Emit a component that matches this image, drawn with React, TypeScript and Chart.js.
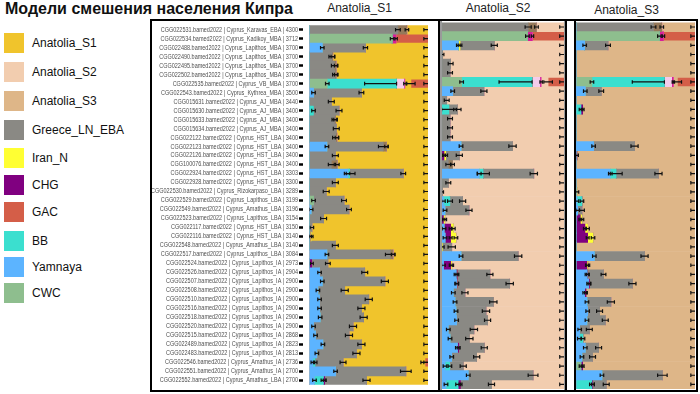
import React, { useEffect, useRef } from 'react';
import { Chart, registerables } from 'chart.js';

Chart.register(...registerables);

// ---------- categories ----------
const sampleIds = [
  'CGG022531', 'CGG022534', 'CGG022488', 'CGG022490', 'CGG022495', 'CGG022502', 'CGG022535', 'CGG022543',
  'CGG015631', 'CGG015630', 'CGG015633', 'CGG015634', 'CGG022122', 'CGG022123', 'CGG022126', 'CGG100076',
  'CGG022924', 'CGG022928', 'CGG022530', 'CGG022529', 'CGG022549', 'CGG022523', 'CGG022117', 'CGG022116',
  'CGG022548', 'CGG022517', 'CGG022524', 'CGG022526', 'CGG022507', 'CGG022508', 'CGG022510', 'CGG022516',
  'CGG022518', 'CGG022520', 'CGG022515', 'CGG022489', 'CGG022483', 'CGG022546', 'CGG022551', 'CGG022552',
];
const sites = [
  'Cyprus_Karavas_EBA', 'Cyprus_Kadikoy_MBA', 'Cyprus_Lapithos_MBA', 'Cyprus_Lapithos_MBA', 'Cyprus_Lapithos_MBA',
  'Cyprus_Lapithos_MBA', 'Cyprus_VB_MBA', 'Cyprus_Kythrea_MBA', 'Cyprus_AJ_MBA', 'Cyprus_AJ_MBA',
  'Cyprus_AJ_MBA', 'Cyprus_AJ_MBA', 'Cyprus_HST_LBA', 'Cyprus_HST_LBA', 'Cyprus_HST_LBA',
  'Cyprus_HST_LBA', 'Cyprus_HST_LBA', 'Cyprus_HST_LBA', 'Cyprus_Rizokarpaso_LBA', 'Cyprus_Lapithos_LBA',
  'Cyprus_Amathus_LBA', 'Cyprus_Lapithos_LBA', 'Cyprus_HST_LBA', 'Cyprus_HST_LBA', 'Cyprus_Amathus_LBA',
  'Cyprus_Lapithos_LBA', 'Cyprus_Lapithos_IA', 'Cyprus_Lapithos_IA', 'Cyprus_Lapithos_IA', 'Cyprus_Lapithos_IA',
  'Cyprus_Lapithos_IA', 'Cyprus_Lapithos_IA', 'Cyprus_Lapithos_IA', 'Cyprus_Lapithos_IA', 'Cyprus_Lapithos_IA',
  'Cyprus_Lapithos_IA', 'Cyprus_Lapithos_IA', 'Cyprus_Amathus_IA', 'Cyprus_Amathus_IA', 'Cyprus_Amathus_LBA',
];
const dates = [
  4300, 3712, 3700, 3700, 3700, 3700, 3700, 3500, 3440, 3400, 3400, 3400, 3400, 3400, 3400, 3400, 3303, 3300, 3289, 3199,
  3196, 3154, 3150, 3140, 3140, 3084, 2973, 2904, 2900, 2900, 2900, 2900, 2900, 2900, 2868, 2823, 2813, 2736, 2700, 2700,
];
const categories = sampleIds.map((id, i) => `${id}.bamed2022 | ${sites[i]} | ${dates[i]}`);

// ---------- panel titles / legend ----------
const panelTitles = ['Anatolia_S1', 'Anatolia_S2', 'Anatolia_S3'];
const legendNames = ['Anatolia_S1', 'Anatolia_S2', 'Anatolia_S3', 'Greece_LN_EBA', 'Iran_N', 'CHG', 'GAC', 'BB', 'Yamnaya', 'CWC'];
const legendColors = ['#F0C42C', '#F2CDAF', '#DEB688', '#8A8984', '#FFFF33', '#800080', '#D45E48', '#3BDFCF', '#5CB4FF', '#8EBE8E'];

// ---------- Panel 1 (Anatolia_S1) ----------
const s1Yamnaya = [0, 0, 10.8, 0, 0, 0, 0, 3.4, 0, 0, 0, 0, 0, 14.7, 0, 0, 32.5, 0, 0, 0, 1.4, 0, 0, 0, 0, 14.7, 0, 8.5, 10.8, 7.1, 8.5, 8.5, 9, 3.4, 5.1, 11.3, 6.2, 2.8, 22, 4.2];
const s1CWC = [0, 69.7, 0, 0, 0, 0, 15, 0, 0, 0, 0, 0, 0, 0, 0, 0, 0, 0, 0, 3.4, 0, 0, 0, 0, 0, 0, 0, 0, 0, 0, 0, 0, 0, 0, 0, 0, 0, 0, 0, 0];
const s1BB = [0, 0, 0, 0, 0, 0, 58.5, 0, 0, 3.4, 0, 0, 0, 0, 0, 0, 1.4, 0, 0, 0, 0, 0, 0, 0, 0, 0, 0, 0, 0, 0, 0, 0, 0, 0, 0, 0, 0, 2, 0, 7.6];
const s1CHG = [0, 0, 0, 0, 0, 0, 0, 0, 0, 0, 0, 0, 0, 0, 0, 0, 0, 0, 0, 0, 0, 0, 0, 0.5, 0, 0, 2, 0, 0, 0, 0, 0, 0, 0, 0, 0, 0, 0, 0, 1];
const s1Iran = [0, 0, 0, 0, 0, 0, 0, 0, 0, 0, 0, 0, 0, 0, 0, 0, 0, 0, 0, 0, 0, 0, 0, 1, 0, 0, 0, 0, 0, 0, 0, 0, 0, 0, 0, 0, 0, 0, 0, 0];
const s1Greece = [74.6, 0, 36.4, 18.9, 21, 21.5, 0, 40.4, 18.4, 21.5, 21, 22.6, 22, 47.5, 21.8, 18.4, 45.2, 21.8, 14.1, 25.7, 31.9, 11.9, 2, 0, 21.8, 53.4, 13.5, 38.1, 52.8, 22.6, 41.5, 35.3, 36.7, 33.3, 28.2, 32.5, 33.4, 23.5, 59.3, 35.3];
const s1Brown = [7.6, 0, 0, 0.8, 1.5, 1.1, 0, 0, 0, 0, 1, 0, 1.2, 2.8, 0, 5.1, 0, 0, 0, 0, 0, 0, 0, 0, 0, 2.5, 0, 0, 0, 0, 0, 0, 0, 0, 0, 0, 0, 0, 0, 0];
const s1Pink = [0, 0, 0, 0, 0, 0, 6.2, 0, 0, 0, 0, 0, 0, 0, 0, 0, 0, 0, 0, 0, 0, 0, 0, 0, 0, 0, 0, 0, 0, 0, 0, 0, 0, 0, 0, 0, 0, 0, 0, 0];
const s1Magenta = [0, 3.4, 0, 0, 0, 0, 0.8, 0, 0, 0, 0, 0, 0, 0, 0, 0, 0, 0, 0, 0, 0, 0, 0, 0, 0, 0, 0, 0, 0, 0, 0, 0, 0, 0, 0, 0, 0, 0, 0, 0];
const s1Anatolia = [17.8, 0, 52.8, 80.3, 77.5, 77.4, 5.1, 56.2, 81.6, 75.1, 78, 77.4, 76.8, 35, 78.2, 76.5, 20.9, 78.2, 85.9, 70.9, 66.7, 88.1, 98, 98.5, 78.2, 29.4, 84.5, 53.4, 36.4, 70.3, 50, 56.2, 54.3, 63.3, 66.7, 56.2, 60.4, 69.2, 18.7, 51.9];
const s1GAC = [0, 26.9, 0, 0, 0, 0, 14.4, 0, 0, 0, 0, 0, 0, 0, 0, 0, 0, 0, 0, 0, 0, 0, 0, 0, 0, 0, 0, 0, 0, 0, 0, 0, 0, 0, 0, 0, 0, 2.5, 0, 0];
const s1ErrGreece = [2, 0, 1.8, 2.5, 2.5, 2, 0, 2, 2.5, 2.5, 2, 2.5, 2.5, 4, 2.5, 2.5, 2, 2.5, 2.5, 2, 2, 2.5, 1.5, 0, 2.5, 4, 2, 2.5, 3, 3, 3, 3, 3, 3, 3, 3, 3, 2.5, 4.5, 3];
const s1ErrBB = [0, 0, 0, 0, 0, 0, [27, 0], 0, 0, 1.5, 0, 0, 0, 0, 0, 0, 4.5, 0, 0, 0, 0, 0, 0, 0, 0, 0, 0, 0, 0, 0, 0, 0, 0, 0, 0, 0, 0, 1.5, 0, 2];

// ---------- Panel 2 (Anatolia_S2) ----------
const s2Yamnaya = [0, 0, 13.6, 0, 0, 0, 0, 9, 0, 0, 0, 0, 0, 15.8, 0, 0, 30.7, 0, 0, 1.4, 2.7, 0, 1.9, 2.7, 0, 15.8, 1.4, 11.7, 12.2, 9.5, 10.9, 11.7, 12.2, 5.4, 6.8, 12.8, 8.2, 2.7, 21.7, 3.5];
const s2CWC = [0, 70.1, 0, 0, 0, 0, 16.3, 0, 0, 0, 0, 0, 0, 0, 0, 0, 0, 0, 0, 0, 0, 0, 0, 0, 0, 0, 0, 0, 0, 0, 0, 0, 0, 0, 0, 0, 0, 0, 0, 0];
const s2BB = [0, 0, 0, 0, 0, 0, 57.6, 0, 0, 6, 0, 0, 0, 0, 0, 0, 3.3, 0, 0, 5.4, 0, 0, 0, 0, 0, 0, 0, 0, 0, 0, 0, 0, 0, 0, 0, 0, 0, 4, 0, 10];
const s2CHG = [0, 0, 0, 0, 0, 0, 0, 0, 0, 0, 0, 0, 0, 0, 1.9, 0, 0, 0, 0, 0, 0, 1.4, 5.4, 4.6, 0, 0, 6, 1.1, 0.5, 0, 0, 0, 0, 0, 0, 1.1, 0, 0, 0, 1.9];
const s2Iran = [0, 0, 1.4, 0, 0, 0, 0, 0, 0, 0, 0, 0, 0, 0, 1.4, 0, 0, 0, 0, 0, 0, 1.1, 2.2, 4.3, 0.5, 0, 0.8, 0, 0, 0, 0, 0, 0, 0, 0, 0, 0, 0, 0, 0];
const s2Greece = [70.7, 0, 28, 0.8, 7.3, 6.8, 0, 25.5, 4.1, 6.8, 6.8, 6.8, 6.8, 42.1, 11.1, 5.4, 41.3, 5.4, 0.5, 10.3, 19.6, 0, 0, 0, 7.7, 46.7, 0, 26.6, 42.9, 9.5, 31.3, 24.5, 25.3, 20.9, 15.8, 20.9, 20.4, 10.9, 53, 25.3];
const s2Brown = [6.8, 0, 0, 0, 0, 0, 0, 0, 0, 0, 0, 0, 0, 0, 0, 3.5, 0, 0, 0, 0, 0, 0, 0, 0, 0, 0, 0, 0, 0, 0, 0, 0, 0, 0, 0, 0, 0, 0, 0, 0];
const s2Pink = [0, 0, 0, 0, 0, 0, 6.3, 0, 0, 0, 0, 0, 0, 0, 0, 0, 0, 0, 0, 0, 0, 0, 0, 0, 0, 0, 0, 0, 0, 0, 0, 0, 0, 0, 0, 0, 0, 0, 0, 0];
const s2Magenta = [0, 4.1, 0, 0, 0, 0, 1.1, 0, 0, 0, 0, 0, 0, 0, 0, 0, 0, 0, 0, 0, 0, 0, 0, 0, 0, 0, 0, 0, 0, 0, 0, 0, 0, 0, 0, 0, 0, 0, 0, 0];
const s2Anatolia = [22.5, 0, 57, 99.2, 92.7, 93.2, 5.7, 65.5, 95.9, 87.2, 93.2, 93.2, 93.2, 42.1, 85.6, 91.1, 24.7, 94.6, 99.5, 82.9, 77.7, 97.5, 90.5, 88.4, 91.8, 37.5, 91.8, 60.6, 44.4, 81, 57.8, 63.8, 62.5, 73.7, 77.4, 65.2, 71.4, 82.4, 25.3, 59.3];
const s2GAC = [0, 25.8, 0, 0, 0, 0, 13, 0, 0, 0, 0, 0, 0, 0, 0, 0, 0, 0, 0, 0, 0, 0, 0, 0, 0, 0, 0, 0, 0, 0, 0, 0, 0, 0, 0, 0, 0, 0, 0, 0];
const s2ErrGreece = [2.5, 0, 2.5, 1, 2, 2, 0, 2.5, 2, 3, 2, 2, 2, 3, 2.5, 2, 3, 2, 1, 2.5, 2.5, 0, 0, 0, 3, 3, 0, 2.5, 3, 2.5, 3, 3, 2.5, 3, 3, 2.5, 2.5, 2.5, 4, 2.5];
const s2ErrBB = [0, 0, 0, 0, 0, 0, [27, 0], 0, 0, 6, 0, 0, 0, 0, 0, 0, 5, 0, 0, 2, 0, 0, 0, 0, 0, 0, 0, 0, 0, 0, 0, 0, 0, 0, 0, 0, 0, 1.5, 0, 2];

// ---------- Panel 3 (Anatolia_S3) ----------
const s3Yamnaya = [0, 0, 7.3, 0, 0, 0, 0, 7.8, 0, 0, 0, 0, 0, 14.8, 0, 0, 28.8, 0, 0, 0.8, 1.4, 0, 0, 0, 0, 15.4, 0, 9.2, 10.6, 7.3, 9.2, 9.8, 9.2, 3.1, 2.8, 7.8, 5, 0, 21.8, 0];
const s3CWC = [0, 70.1, 0, 0, 0, 0, 13.4, 0, 0, 0, 0, 0, 0, 0, 0, 0, 0, 0, 0, 0, 0, 0, 0, 0, 0, 0, 0, 0, 0, 0, 0, 0, 0, 0, 0, 0, 0, 4.2, 0, 0];
const s3BB = [0, 0, 0, 0, 0, 0, 60.9, 0, 0, 4.2, 0, 0, 0, 0, 0, 0, 5, 0, 0, 4.2, 0, 0, 0, 0, 0, 0, 0, 0, 0, 0, 0, 0, 0, 0, 3.1, 0, 0, 0, 0, 13.4];
const s3CHG = [0, 0, 0, 0, 0, 0, 0, 0, 0, 1.4, 0, 0, 0, 0, 0.8, 0, 0, 0, 0, 0, 0, 3.6, 7.5, 9.8, 0, 0, 9.2, 0.8, 0.8, 1.1, 0, 0, 0, 0, 0, 0, 0, 1.4, 0, 0.8];
const s3Iran = [0, 0, 0, 0, 0, 0, 0, 0, 0, 0, 0, 0, 0, 0, 0, 0, 0, 0, 0.8, 0, 0, 1.4, 2.2, 4.5, 0, 0, 0.8, 0, 0, 0, 0, 0, 0, 0, 0, 0, 0, 0, 0, 0];
const s3Greece = [65.1, 0, 19.6, 0, 0, 0, 0, 13.4, 0, 0, 0, 0, 0, 34.4, 0, 0, 35.5, 0, 0, 0, 3.6, 0, 0, 0, 0, 42.2, 0, 13.1, 36, 0, 20.1, 10, 15.4, 8.1, 0, 11.2, 8.9, 0, 50.8, 11.2];
const s3Brown = [7, 0, 0, 0, 0, 0, 0, 0, 0, 0, 0, 0, 0, 0, 0, 0, 0, 0, 0, 0, 0, 0, 0, 0, 0, 0, 0, 0, 0, 0, 0, 0, 0, 0, 0, 0, 0, 0, 0, 0];
const s3Pink = [0, 0, 0, 0, 0, 0, 6.1, 0, 0, 0, 0, 0, 0, 0, 0, 0, 0, 0, 0, 0, 0, 0, 0, 0, 0, 0, 0, 0, 0, 0, 0, 0, 0, 0, 0, 0, 0, 0, 0, 0];
const s3Magenta = [0, 3.4, 0, 0, 0, 0, 1.4, 0, 0, 0, 0, 0, 0, 0, 0, 0, 0, 0, 0, 0, 0, 0, 0, 0, 0, 0, 0, 0, 0, 0, 0, 0, 0, 0, 0, 0, 0, 0, 0, 0];
const s3Anatolia = [27.9, 0, 73.1, 100, 100, 100, 3.4, 78.8, 100, 94.4, 100, 100, 100, 50.8, 99.2, 100, 30.7, 100, 99.2, 95, 95, 95, 90.3, 85.7, 100, 42.4, 90, 76.9, 52.6, 91.6, 70.7, 80.2, 75.4, 88.8, 94.1, 81, 86.1, 94.4, 27.4, 74.6];
const s3GAC = [0, 26.5, 0, 0, 0, 0, 14.8, 0, 0, 0, 0, 0, 0, 0, 0, 0, 0, 0, 0, 0, 0, 0, 0, 0, 0, 0, 0, 0, 0, 0, 0, 0, 0, 0, 0, 0, 0, 0, 0, 0];
const s3ErrGreece = [2, 0, 2, 0, 0, 0, 0, 2, 0, 0, 0, 0, 0, 3, 0, 0, 3, 0, 0, 0, 2, 0, 0, 0, 0, 3, 0, 2, 3, 0, 3, 2.5, 2.5, 2.5, 0, 2.5, 2.5, 0, 4, 2.5];
const s3ErrBB = [0, 0, 0, 0, 0, 0, [27, 0], 0, 0, 1.5, 0, 0, 0, 0, 0, 0, 5, 0, 0, 1.5, 0, 0, 0, 0, 0, 0, 0, 0, 0, 0, 0, 0, 0, 0, 1.5, 0, 0, 0, 0, 2];

// ---------- chart helpers ----------
type Err = number | [number, number];

const errorBarPlugin = {
  id: 'errorBars',
  afterDatasetsDraw(chart: any) {
    const { ctx, chartArea: a, scales } = chart;
    const xs = scales.x;
    const unit = xs.getPixelForValue(1) - xs.getPixelForValue(0);
    ctx.save();
    ctx.beginPath();
    ctx.rect(a.left, a.top, a.right - a.left, a.bottom - a.top);
    ctx.clip();
    ctx.strokeStyle = '#111';
    ctx.lineWidth = 1.2;
    chart.data.datasets.forEach((ds: any, di: number) => {
      const spec = ds.err;
      if (spec == null) return;
      const meta = chart.getDatasetMeta(di);
      meta.data.forEach((bar: any, i: number) => {
        if (!ds.data[i]) return;
        const e: Err = Array.isArray(spec) ? spec[i] : spec;
        if (!e) return;
        const [lo, hi] = Array.isArray(e) ? e : [e, e];
        const x0 = bar.x - lo * unit;
        const x1 = bar.x + hi * unit;
        const y = bar.y;
        ctx.beginPath();
        ctx.moveTo(x0, y);
        ctx.lineTo(x1, y);
        ctx.moveTo(x0, y - 1.8);
        ctx.lineTo(x0, y + 1.8);
        ctx.moveTo(x1, y - 1.8);
        ctx.lineTo(x1, y + 1.8);
        ctx.stroke();
      });
    });
    ctx.restore();
  },
};

// the category labels are set in a narrow face in the original; condense them horizontally
const condenseLabelsPlugin = {
  id: 'condenseLabels',
  beforeDraw(chart: any) {
    const s = chart.scales.y;
    if (!s || s.__condensed) return;
    const orig = s.drawLabels.bind(s);
    s._computeLabelArea = () => undefined;
    s.drawLabels = (area: any) => {
      const ctx = chart.ctx;
      const ax = s.right - 5;
      ctx.save();
      ctx.translate(ax, 0);
      ctx.scale(0.785, 1);
      ctx.translate(-ax, 0);
      orig(area);
      ctx.restore();
    };
    s.__condensed = true;
  },
};

const brownColor = '#95795A';
const pinkColor = '#F4CCEA';
const magentaColor = '#D81E9A';

function buildDatasets(p: any, mainColor: string, mainName: string) {
  return [
    { label: 'Yamnaya', data: p.yam, backgroundColor: legendColors[8], err: 1.5 },
    { label: 'CWC', data: p.cwc, backgroundColor: legendColors[9], err: 1.5 },
    { label: 'BB', data: p.bb, backgroundColor: legendColors[7], err: p.errBB },
    { label: 'CHG', data: p.chg, backgroundColor: legendColors[5], err: 1.2 },
    { label: 'Iran_N', data: p.iran, backgroundColor: legendColors[4], err: 1.5 },
    { label: 'Greece_LN_EBA', data: p.greece, backgroundColor: legendColors[3], err: p.errGreece },
    { label: 'mix_a', data: p.brown, backgroundColor: brownColor, err: 1.5 },
    { label: 'mix_b', data: p.pink, backgroundColor: pinkColor, err: 0 },
    { label: 'mix_c', data: p.magenta, backgroundColor: magentaColor, err: 1 },
    { label: mainName, data: p.main, backgroundColor: mainColor, err: 3.5 },
    { label: 'GAC', data: p.gac, backgroundColor: legendColors[6], err: 3.5 },
  ].map((d) => ({ ...d, borderWidth: 0, barPercentage: 1, categoryPercentage: 1 }));
}

const panels = [
  { yam: s1Yamnaya, cwc: s1CWC, bb: s1BB, chg: s1CHG, iran: s1Iran, greece: s1Greece, brown: s1Brown, pink: s1Pink, magenta: s1Magenta, main: s1Anatolia, gac: s1GAC, errGreece: s1ErrGreece, errBB: s1ErrBB },
  { yam: s2Yamnaya, cwc: s2CWC, bb: s2BB, chg: s2CHG, iran: s2Iran, greece: s2Greece, brown: s2Brown, pink: s2Pink, magenta: s2Magenta, main: s2Anatolia, gac: s2GAC, errGreece: s2ErrGreece, errBB: s2ErrBB },
  { yam: s3Yamnaya, cwc: s3CWC, bb: s3BB, chg: s3CHG, iran: s3Iran, greece: s3Greece, brown: s3Brown, pink: s3Pink, magenta: s3Magenta, main: s3Anatolia, gac: s3GAC, errGreece: s3ErrGreece, errBB: s3ErrBB },
];

const labelFont = "'Liberation Sans', Arial, sans-serif";

function makeChart(canvas: HTMLCanvasElement, idx: number, withLabels: boolean, padding: any) {
  const p = panels[idx];
  const yScales: any = withLabels
    ? {
        y: {
          type: 'category',
          stacked: true,
          position: 'left',
          weight: 1,
          afterFit: (s: any) => { s.width = 151; },
          ticks: { autoSkip: false, color: '#505050', font: { family: labelFont, size: 7 }, padding: 1 },
          grid: { display: true, drawOnChartArea: false, drawTicks: true, tickLength: 4, tickWidth: 2.5, tickColor: '#000', offset: false },
          border: { display: false },
        },
        yGap: {
          type: 'category',
          position: 'left',
          weight: 0,
          afterFit: (s: any) => { s.width = 6.5; },
          ticks: { display: false },
          grid: { display: false },
          border: { display: true, color: '#b4b4b4', width: 1 },
        },
      }
    : { y: { type: 'category', stacked: true, display: false } };

  return new Chart(canvas, {
    type: 'bar',
    data: { labels: categories, datasets: buildDatasets(p, legendColors[idx], panelTitles[idx]) as any },
    options: {
      indexAxis: 'y',
      animation: false,
      responsive: false,
      maintainAspectRatio: false,
      layout: { padding },
      plugins: { legend: { display: false }, tooltip: { enabled: false }, title: { display: false } },
      scales: {
        x: { type: 'linear', stacked: true, min: 0, max: 100, display: false },
        ...yScales,
      },
    } as any,
    plugins: withLabels ? [condenseLabelsPlugin, errorBarPlugin] : [errorBarPlugin],
  });
}

const uiFont = "'Liberation Sans', Arial, sans-serif";
const legendTops = [33, 62, 91, 120, 148, 175, 202, 231, 257, 283];
const titleCenters = [359.5, 498, 626.5];
const titleTops = [1, 0.5, 2.5];

export default function App() {
  const c1 = useRef<HTMLCanvasElement>(null);
  const c2 = useRef<HTMLCanvasElement>(null);
  const c3 = useRef<HTMLCanvasElement>(null);

  useEffect(() => {
    const charts = [
      makeChart(c1.current!, 0, true, { left: 0, right: 3, top: 2.4, bottom: 1 }),
      makeChart(c2.current!, 1, false, { left: 1.7, right: 1, top: 2.4, bottom: 1 }),
      makeChart(c3.current!, 2, false, { left: 0, right: 1, top: 2.4, bottom: 1 }),
    ];
    return () => charts.forEach((c) => c.destroy());
  }, []);

  const line = (left: number, top: number, width: number, height: number, color = '#000') => (
    <div style={{ position: 'absolute', left, top, width, height, background: color }} />
  );

  return (
    <div style={{ position: 'absolute', left: 0, top: 0, width: 700, height: 394, background: '#fff', overflow: 'hidden', fontFamily: uiFont }}>
      <div style={{ position: 'absolute', left: 5, top: 0.5, fontSize: 16, lineHeight: '16px', fontWeight: 'bold', color: '#111', whiteSpace: 'nowrap' }}>
        Модели смешения населения Кипра
      </div>

      {legendNames.map((n, i) => (
        <div key={n} style={{ position: 'absolute', left: 4, top: legendTops[i], height: 20, display: 'flex', alignItems: 'center', whiteSpace: 'nowrap' }}>
          <div style={{ width: 20, height: 20, background: legendColors[i] }} />
          <span style={{ marginLeft: 8, fontSize: 12, color: '#111' }}>{n}</span>
        </div>
      ))}

      {panelTitles.map((t, i) => (
        <div key={t} style={{ position: 'absolute', left: titleCenters[i] - 60, width: 120, top: titleTops[i], textAlign: 'center', fontSize: 12, lineHeight: '14px', color: '#222' }}>
          {t}
        </div>
      ))}

      <canvas ref={c1} width={279} height={370} style={{ position: 'absolute', left: 152, top: 20 }} />
      <canvas ref={c2} width={125} height={370} style={{ position: 'absolute', left: 440, top: 20 }} />
      <canvas ref={c3} width={120} height={370} style={{ position: 'absolute', left: 576, top: 20 }} />

      {line(150, 18.5, 548, 2)}
      {line(150, 389.5, 548, 2)}
      {line(150, 18.5, 2, 373)}
      {line(696, 18.5, 2, 373)}
      {line(437.5, 18.5, 2, 373)}
      {line(439.5, 20.5, 2.2, 369, '#9a9a9a')}
      {line(564.3, 20.5, 0.8, 369, '#9a9a9a')}
      {line(565, 18.5, 2, 373)}
      {line(573.5, 18.5, 2, 373)}
    </div>
  );
}
